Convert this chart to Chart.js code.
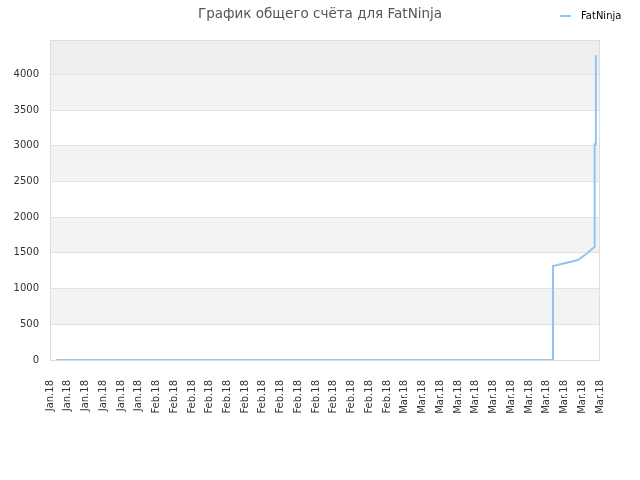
<!DOCTYPE html>
<html>
<head>
<meta charset="utf-8">
<script src="https://cdn.jsdelivr.net/npm/chart.js@4.4.1/dist/chart.umd.min.js"></script>
<style>
  html, body { margin: 0; padding: 0; background: #fff; }
  #wrap { width: 640px; height: 480px; }
</style>
</head>
<body>
<div id="wrap"><canvas id="chart" width="640" height="480"></canvas></div>
<script>
  const TITLE = 'График общего счёта для FatNinja';
  const SERIES_NAME = 'FatNinja';

  // x-axis labels, one per tick (tick index 0..31)
  const tickLabels = [
    'Jan.18', 'Jan.18', 'Jan.18', 'Jan.18', 'Jan.18', 'Jan.18',
    'Feb.18', 'Feb.18', 'Feb.18', 'Feb.18', 'Feb.18', 'Feb.18', 'Feb.18',
    'Feb.18', 'Feb.18', 'Feb.18', 'Feb.18', 'Feb.18', 'Feb.18', 'Feb.18',
    'Mar.18', 'Mar.18', 'Mar.18', 'Mar.18', 'Mar.18', 'Mar.18',
    'Mar.18', 'Mar.18', 'Mar.18', 'Mar.18', 'Mar.18', 'Mar.18',
  ];
  const yTicks = [0, 500, 1000, 1500, 2000, 2500, 3000, 3500, 4000];

  // score points, x measured in tick-index units
  const timePos = [0.34, 28.35, 28.35, 29.76, 30.15, 30.7, 30.7, 30.77, 30.77];
  const scores = [0, 0, 1315, 1400, 1470, 1585, 3020, 3020, 4266];

  const LINE_COLOR = '#93c4f1';

  Chart.defaults.font.family = '"DejaVu Sans", sans-serif';
  Chart.defaults.color = '#333';

  // zebra bands behind the grid, plus the plot frame
  const bands = {
    id: 'bands',
    beforeDraw(chart) {
      const { ctx, chartArea: a, scales: { y } } = chart;
      ctx.save();
      for (let i = 0; i < yTicks.length; i++) {
        const lo = yTicks[i];
        const hi = i + 1 < yTicks.length ? yTicks[i + 1] : y.max;
        const top = y.getPixelForValue(hi);
        const bottom = y.getPixelForValue(lo);
        if (i === yTicks.length - 1) ctx.fillStyle = '#eeeeee';
        else ctx.fillStyle = i % 2 ? '#f3f3f3' : '#ffffff';
        ctx.fillRect(a.left, top, a.right - a.left, bottom - top);
      }
      ctx.restore();
    },
    afterDraw(chart) {
      const { ctx, chartArea: a } = chart;
      ctx.save();
      ctx.strokeStyle = '#dddddd';
      ctx.lineWidth = 1;
      ctx.strokeRect(a.left + 0.5, a.top + 0.5, a.right - a.left - 1, a.bottom - a.top);
      ctx.restore();
    },
  };

  // legend in the title row, top right
  const lineLegend = {
    id: 'lineLegend',
    afterDraw(chart) {
      const { ctx, chartArea: a } = chart;
      const ds = chart.data.datasets[0];
      ctx.save();
      ctx.strokeStyle = ds.borderColor;
      ctx.lineWidth = 2;
      ctx.beginPath();
      ctx.moveTo(a.right - 40, 16);
      ctx.lineTo(a.right - 29, 16);
      ctx.stroke();
      ctx.fillStyle = '#000';
      ctx.font = '10px "DejaVu Sans", sans-serif';
      ctx.textBaseline = 'middle';
      ctx.fillText(ds.label, a.right - 19, 16);
      ctx.restore();
    },
  };

  new Chart(document.getElementById('chart'), {
    type: 'line',
    data: {
      datasets: [{
        label: SERIES_NAME,
        data: timePos.map((x, i) => ({ x, y: scores[i] })),
        borderColor: LINE_COLOR,
        borderWidth: 2,
        pointRadius: 0,
        tension: 0,
        fill: false,
      }],
    },
    options: {
      responsive: false,
      animation: false,
      layout: { padding: 0 },
      plugins: {
        legend: { display: false },
        tooltip: { enabled: false },
        title: {
          display: true,
          text: TITLE,
          color: '#555',
          font: { size: 13.5, weight: 'normal' },
          padding: { top: 6, bottom: 17.8 },
        },
      },
      scales: {
        x: {
          type: 'linear',
          min: 0,
          max: tickLabels.length - 1,
          grid: { display: false },
          border: { display: false },
          ticks: {
            stepSize: 1,
            autoSkip: false,
            maxRotation: 90,
            minRotation: 90,
            padding: 12,
            font: { size: 10 },
            callback: (v) => tickLabels[v],
          },
          afterFit(scale) { scale.height = 120; },
        },
        y: {
          min: 0,
          max: 4480,
          grid: { color: '#e2e2e2', drawTicks: false },
          border: { display: false },
          ticks: {
            padding: 11,
            font: { size: 10 },
            callback: (v) => String(v),
          },
          afterBuildTicks(scale) { scale.ticks = yTicks.map((value) => ({ value })); },
          afterFit(scale) { scale.width = 50; },
        },
        // empty right-hand gutter so the title stays centred on the page
        gutter: {
          type: 'linear',
          position: 'right',
          grid: { display: false },
          border: { display: false },
          ticks: { display: false },
          afterFit(scale) { scale.width = 40; },
        },
      },
    },
    plugins: [bands, lineLegend],
  });
</script>
</body>
</html>
